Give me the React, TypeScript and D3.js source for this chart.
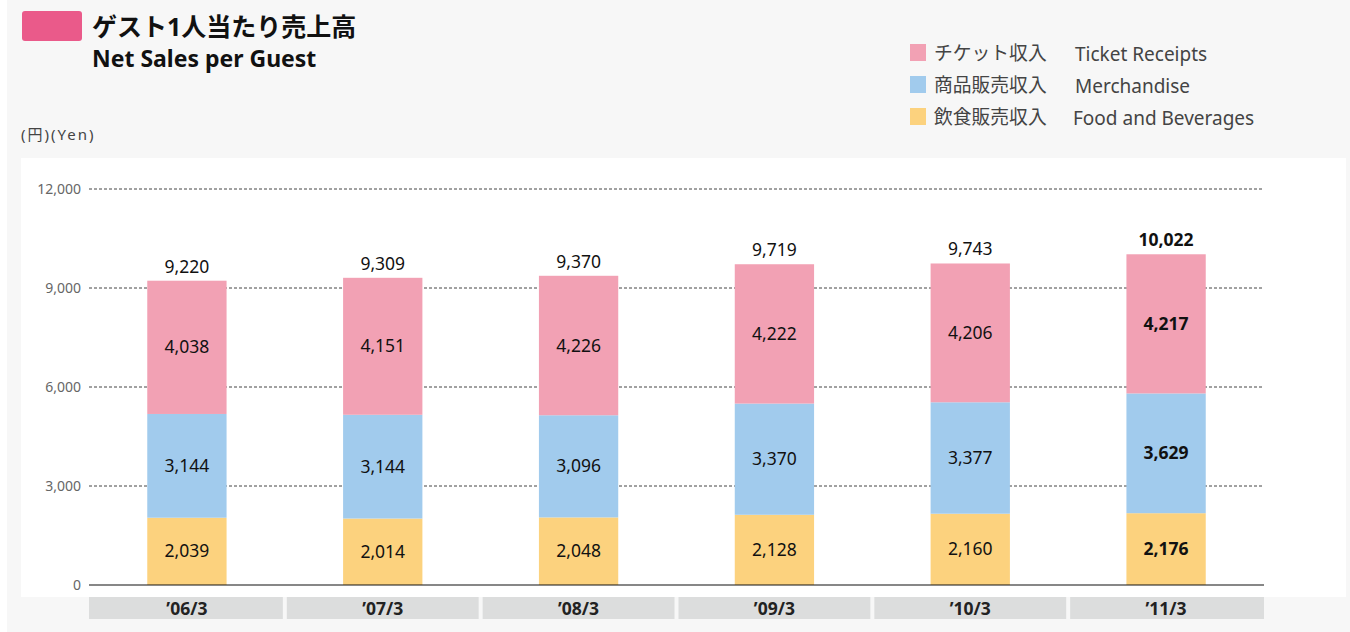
import React from 'react';
import * as d3 from 'd3';

const categories = ['’06/3', '’07/3', '’08/3', '’09/3', '’10/3', '’11/3'];
const foodValues = [2039, 2014, 2048, 2128, 2160, 2176];
const merchValues = [3144, 3144, 3096, 3370, 3377, 3629];
const ticketValues = [4038, 4151, 4226, 4222, 4206, 4217];
const totalValues = [9220, 9309, 9370, 9719, 9743, 10022];
const yTicks = [0, 3000, 6000, 9000, 12000];

const seriesKeys = ['food', 'merch', 'ticket'];
const seriesColors: Record<string, string> = {
  food: '#fcd27e',
  merch: '#a1cbed',
  ticket: '#f2a1b4',
};
const legendItems = [
  { key: 'ticket', ja: 'チケット収入', en: 'Ticket Receipts' },
  { key: 'merch', ja: '商品販売収入', en: 'Merchandise' },
  { key: 'food', ja: '飲食販売収入', en: 'Food and Beverages' },
];

const FONT = '"Noto Sans", "Noto Sans CJK JP", sans-serif';

const App: React.FC = () => {
  const width = 1350;
  const height = 632;
  const left = 89;
  const right = 1264;

  const rows = categories.map((c, i) => ({
    cat: c,
    food: foodValues[i],
    merch: merchValues[i],
    ticket: ticketValues[i],
    total: totalValues[i],
  }));

  const x = d3.scaleBand<string>().domain(categories).range([left, right]).padding(0);
  const y = d3.scaleLinear().domain([0, 12000]).range([585, 189]);
  const layers = d3.stack<any>().keys(seriesKeys)(rows);
  const barW = x.bandwidth() * 0.405;
  const fmt = d3.format(',');
  const last = categories.length - 1;

  return (
    <svg
      width={width}
      height={height}
      style={{ position: 'absolute', left: 0, top: 0, display: 'block', fontFamily: FONT }}
    >
      <rect x={0} y={0} width={width} height={height} fill="#ffffff" />
      <rect x={7} y={-10} width={width} height={height + 20} rx={8} fill="#f7f7f7" />
      <rect x={21} y={158} width={1325} height={439} fill="#ffffff" />

      {/* Title */}
      <rect x={22} y={11} width={60} height={30} rx={3} fill="#ea5a8a" />
      <text x={92} y={36} fontSize={25} fontWeight="bold" fill="#111">
        ゲスト1人当たり売上高
      </text>
      <text x={92} y={67} fontSize={23} fontWeight="bold" fill="#111">
        Net Sales per Guest
      </text>
      <text x={21} y={140} fontSize={15} fill="#444" letterSpacing={2}>
        (円)(Yen)
      </text>

      {/* Legend */}
      {legendItems.map((item, i) => (
        <g key={item.key} transform={`translate(910, ${44 + i * 32})`}>
          <rect x={0} y={0} width={16} height={17} fill={seriesColors[item.key]} />
          <text x={24} y={16} fontSize={18.8} fill="#444">
            {item.ja}
          </text>
          <text x={i === 2 ? 163 : 165} y={17} fontSize={19} fill="#444">
            {item.en}
          </text>
        </g>
      ))}

      {/* Grid */}
      {yTicks.map((t) => (
        <g key={t}>
          {t > 0 && (
            <line
              x1={left}
              x2={right}
              y1={y(t)}
              y2={y(t)}
              stroke="#444"
              strokeWidth={1}
              strokeDasharray="3,2"
            />
          )}
          <text x={81} y={y(t) + 5} fontSize={14} fill="#666" textAnchor="end">
            {fmt(t)}
          </text>
        </g>
      ))}

      {/* Bars */}
      {layers.map((layer) =>
        layer.map((d, i) => {
          const cx = (x(categories[i]) as number) + x.bandwidth() / 2;
          const val = (d.data as any)[layer.key];
          return (
            <g key={`${layer.key}-${i}`}>
              <rect
                x={cx - barW / 2}
                y={y(d[1])}
                width={barW}
                height={y(d[0]) - y(d[1])}
                fill={seriesColors[layer.key]}
              />
              <text
                x={cx}
                y={(y(d[0]) + y(d[1])) / 2 + 6}
                fontSize={17.5}
                fontWeight={i === last ? 'bold' : 'normal'}
                fill="#111"
                textAnchor="middle"
              >
                {fmt(val)}
              </text>
            </g>
          );
        })
      )}

      {/* Totals */}
      {rows.map((r, i) => {
        const cx = (x(r.cat) as number) + x.bandwidth() / 2;
        const top = y(r.food + r.merch + r.ticket);
        return (
          <text
            key={r.cat}
            x={cx}
            y={top - 8}
            fontSize={17.5}
            fontWeight={i === last ? 'bold' : 'normal'}
            fill="#111"
            textAnchor="middle"
          >
            {fmt(r.total)}
          </text>
        );
      })}

      {/* Baseline */}
      <line x1={left} x2={right} y1={y(0)} y2={y(0)} stroke="#111" strokeWidth={1.2} />

      {/* Category bands */}
      {categories.map((c, i) => (
        <g key={c}>
          <rect
            x={(x(c) as number) + (i === 0 ? 0 : 2)}
            y={597}
            width={x.bandwidth() - (i === 0 || i === last ? 2 : 4)}
            height={22}
            fill="#dcdddd"
          />
          <text
            x={(x(c) as number) + x.bandwidth() / 2}
            y={615}
            fontSize={17.5}
            fontWeight="bold"
            fill="#222"
            textAnchor="middle"
          >
            {c}
          </text>
        </g>
      ))}
    </svg>
  );
};

export default App;
